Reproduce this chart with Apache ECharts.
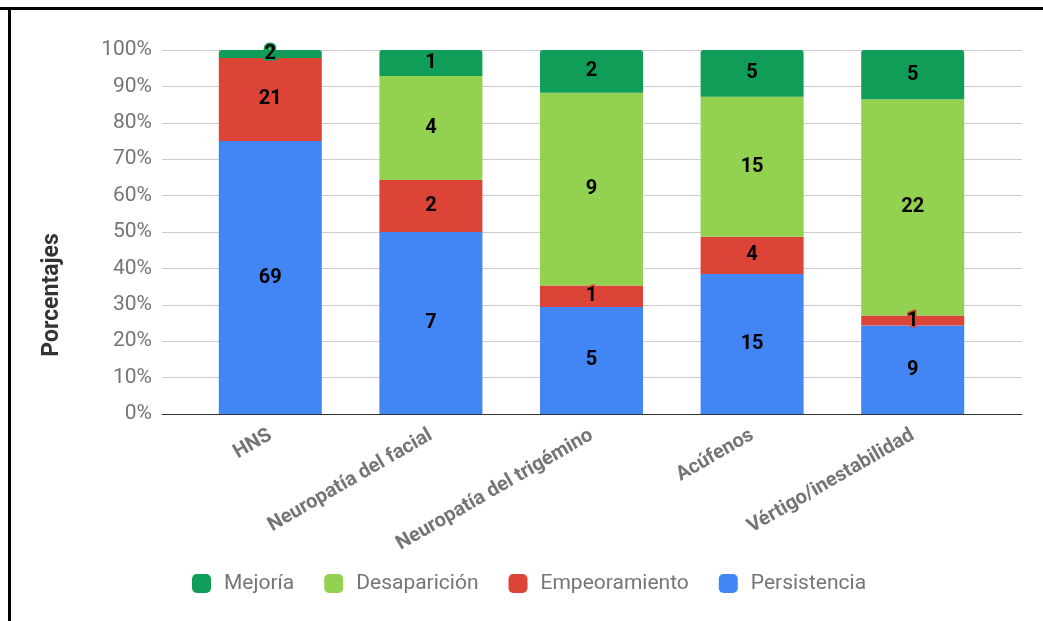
<!DOCTYPE html>
<html><head><meta charset="utf-8">
<script src="https://cdn.jsdelivr.net/npm/echarts@6/dist/echarts.min.js"></script>
<style>html,body{margin:0;padding:0;background:#fff}#c{width:1043px;height:621px}</style>
</head><body><div id="c"></div>
<script>
const categories = ['HNS','Neuropatía del facial','Neuropatía del trigémino','Acúfenos','Vértigo/inestabilidad'];
const persistencia = [69, 7, 5, 15, 9];
const empeoramiento = [21, 2, 1, 4, 1];
const desaparicion = [0, 4, 9, 15, 22];
const mejoria = [2, 1, 2, 5, 5];
const yTicks = [0,10,20,30,40,50,60,70,80,90,100];

const totals = categories.map((_, i) => persistencia[i] + empeoramiento[i] + desaparicion[i] + mejoria[i]);
const seriesDefs = [
  {name:'Persistencia', data:persistencia, color:'#4285F4'},
  {name:'Empeoramiento', data:empeoramiento, color:'#DB4437'},
  {name:'Desaparición', data:desaparicion, color:'#93D150'},
  {name:'Mejoría', data:mejoria, color:'#0F9D58'}
];
const font = 'Roboto, "Noto Sans", sans-serif';
const series = seriesDefs.map((s, k) => ({
  name: s.name, type: 'bar', stack: 'tot', xAxisIndex: 1, yAxisIndex: 1,
  barWidth: 103,
  itemStyle: {color: s.color, borderRadius: k === 3 ? [3,3,0,0] : 0},
  label: {
    show: true, position: 'inside', color: '#000', fontWeight: 'bold', fontSize: 20, fontFamily: font,
    textBorderColor: s.color, textBorderWidth: 3,
    formatter: p => s.data[p.dataIndex] === 0 ? '' : String(s.data[p.dataIndex])
  },
  data: s.data.map((v, i) => v / totals[i] * 100)
}));

const chart = echarts.init(document.getElementById('c'), null, {renderer:'canvas'});
chart.setOption({
  animation: false,
  textStyle: {fontFamily: font},
  grid: [
    {left: 162, right: 21, top: 50, bottom: 207},
    {left: 190, right: 50, top: 50, bottom: 207}
  ],
  xAxis: [
    {type:'category', gridIndex:0, data: categories, axisLine:{show:true, lineStyle:{color:'#333', width:1}},
     axisTick:{show:false}, axisLabel:{show:false}, splitLine:{show:false}},
    {type:'category', gridIndex:1, data: categories, axisLine:{show:false}, axisTick:{show:false},
     axisLabel:{rotate:30, margin:20, color:'#757575', fontWeight:'bold', fontSize:20, fontFamily: font}}
  ],
  yAxis: [
    {type:'value', gridIndex:0, min:0, max:100, interval:10,
     axisLabel:{color:'#757575', fontSize:21, fontFamily: font, margin:10,
       formatter: v => yTicks.includes(v) ? v + '%' : ''},
     axisLine:{show:false}, axisTick:{show:false},
     splitLine:{lineStyle:{color:'#cccccc', width:1}}},
    {type:'value', gridIndex:1, min:0, max:100, interval:10, show:false}
  ],
  legend: {
    data: ['Mejoría','Desaparición','Empeoramiento','Persistencia'],
    left: 187, top: 568, itemWidth: 19, itemHeight: 19, itemGap: 30,
    icon: 'roundRect',
    textStyle: {color:'#757575', fontSize: 21, fontFamily: font, padding:[0,0,0,8]}
  },
  graphic: [
    {type:'rect', shape:{x:0, y:7, width:1043, height:3}, style:{fill:'#000'}},
    {type:'rect', shape:{x:8, y:7, width:3, height:621}, style:{fill:'#000'}},
    {type:'text', x:52, y:295, rotation: Math.PI/2,
     style:{text:'Porcentajes', fill:'#333', font:'bold 23px Roboto', textAlign:'center', textVerticalAlign:'middle'}}
  ],
  series: series
});
</script></body></html>
